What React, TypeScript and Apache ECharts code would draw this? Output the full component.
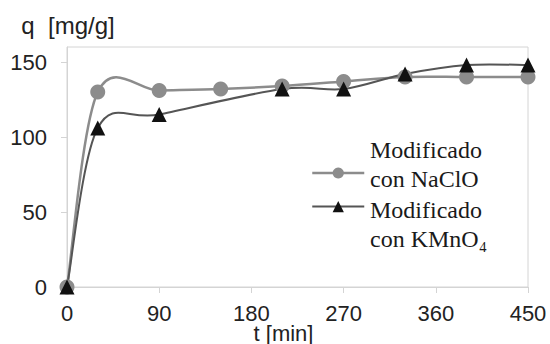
import React, { useEffect, useRef } from "react";
import * as echarts from "echarts";

const timeNaClO = [0, 30, 90, 150, 210, 270, 330, 390, 450];
const qNaClO = [0, 130, 131, 132, 134, 137, 140, 140, 140];
const timeKMnO4 = [0, 30, 90, 210, 270, 330, 390, 450];
const qKMnO4 = [0, 106, 115, 132, 132, 142, 148, 148];
const xTicks = [0, 90, 180, 270, 360, 450];
const yTicks = [0, 50, 100, 150];
const nameNaClO = "Modificado\ncon NaClO";
const nameKMnO4 = "Modificado\ncon KMnO₄";

const colNaClO = "#8c8c8c";
const colKMnO4Line = "#555555";
const colKMnO4Mark = "#111111";

function smoothSeries(name: string, times: number[], values: number[], color: string, width: number) {
  const n = times.length;
  return {
    name,
    type: "custom",
    z: 1,
    silent: true,
    data: times.slice(0, -1).map((t, i) => [t, values[i]]),
    renderItem: (params: any, api: any) => {
      const i = params.dataIndex;
      const pts = times.map((t, k) => api.coord([t, values[k]]));
      const p0 = pts[Math.max(i - 1, 0)];
      const p1 = pts[i];
      const p2 = pts[i + 1];
      const p3 = pts[Math.min(i + 2, n - 1)];
      const k = 1 / 6;
      return {
        type: "bezierCurve",
        shape: {
          x1: p1[0],
          y1: p1[1],
          x2: p2[0],
          y2: p2[1],
          cpx1: p1[0] + (p2[0] - p0[0]) * k,
          cpy1: p1[1] + (p2[1] - p0[1]) * k,
          cpx2: p2[0] - (p3[0] - p1[0]) * k,
          cpy2: p2[1] - (p3[1] - p1[1]) * k,
        },
        style: { stroke: color, lineWidth: width, fill: "none" },
      };
    },
  };
}

export default function App() {
  const ref = useRef<HTMLDivElement>(null);
  useEffect(() => {
    if (!ref.current) return;
    const chart = echarts.init(ref.current, undefined, { renderer: "svg" });
    const sans = "Liberation Sans, Arial, sans-serif";
    const serif = "Liberation Serif, Times New Roman, serif";
    chart.setOption({
      animation: false,
      backgroundColor: "#fff",
      grid: {
        left: 67,
        right: 22,
        top: 47,
        bottom: 57,
        show: true,
        borderColor: "#d4d4d4",
        borderWidth: 1,
        outerBoundsMode: "none",
        containLabel: false,
      },
      legend: [
        {
          // icons only
          orient: "vertical",
          left: 311,
          top: 166,
          padding: 0,
          itemWidth: 52,
          itemHeight: 14,
          itemGap: 21,
          formatter: () => "",
          data: [
            { name: nameNaClO, lineStyle: { color: colNaClO, width: 2.5, opacity: 1 } },
            { name: nameKMnO4, lineStyle: { color: colKMnO4Line, width: 2, opacity: 1 } },
          ],
        },
        {
          // texts only
          orient: "vertical",
          left: 364,
          top: 135.5,
          padding: 0,
          itemWidth: 1,
          itemHeight: 1,
          itemGap: 2,
          textStyle: {
            fontFamily: serif,
            fontSize: 24,
            lineHeight: 29,
            color: "#1a1a1a",
          },
          data: [
            { name: nameNaClO, icon: "none", itemStyle: { opacity: 0 }, lineStyle: { opacity: 0 } },
            { name: nameKMnO4, icon: "none", itemStyle: { opacity: 0 }, lineStyle: { opacity: 0 } },
          ],
        },
      ],
      xAxis: {
        type: "value",
        min: 0,
        max: 450,
        interval: 90,
        name: "t [min]",
        nameLocation: "middle",
        nameGap: 35,
        nameMoveOverlap: false,
        nameTextStyle: {
          fontFamily: sans,
          fontSize: 22,
          lineHeight: 22,
          color: "#222",
          padding: [0, 28, 0, 0],
        },
        axisLine: { show: true, lineStyle: { color: "#d4d4d4", width: 1 } },
        axisTick: { show: true, length: 6, lineStyle: { color: "#d4d4d4" } },
        axisLabel: {
          fontFamily: sans,
          fontSize: 22,
          lineHeight: 18,
          color: "#222",
          margin: 17,
          formatter: (v: number) => (xTicks.includes(v) ? String(v) : ""),
        },
        splitLine: { show: false },
      },
      yAxis: {
        type: "value",
        min: 0,
        max: 160,
        interval: 50,
        name: "q  [mg/g]",
        nameLocation: "end",
        nameGap: 10,
        nameMoveOverlap: false,
        nameTextStyle: {
          fontFamily: sans,
          fontSize: 24,
          color: "#222",
          align: "center",
          padding: [0, 0, 0, 2],
        },
        axisLine: { show: true, lineStyle: { color: "#d4d4d4", width: 1 } },
        axisTick: { show: true, length: 6, lineStyle: { color: "#d4d4d4" } },
        axisLabel: {
          fontFamily: sans,
          fontSize: 22,
          color: "#222",
          margin: 20,
          showMaxLabel: false,
          formatter: (v: number) => (yTicks.includes(v) ? String(v) : ""),
        },
        splitLine: { show: false },
      },
      series: [
        smoothSeries("curva NaClO", timeNaClO, qNaClO, colNaClO, 2.5),
        smoothSeries("curva KMnO4", timeKMnO4, qKMnO4, colKMnO4Line, 2),
        {
          name: nameNaClO,
          type: "line",
          data: timeNaClO.map((t, i) => [t, qNaClO[i]]),
          symbol: "circle",
          symbolSize: 15,
          lineStyle: { color: colNaClO, width: 2.5, opacity: 0 },
          itemStyle: { color: colNaClO },
          z: 2,
        },
        {
          name: nameKMnO4,
          type: "line",
          data: timeKMnO4.map((t, i) => [t, qKMnO4[i]]),
          symbol: "triangle",
          symbolSize: 15,
          lineStyle: { color: colKMnO4Line, width: 2, opacity: 0 },
          itemStyle: { color: colKMnO4Mark },
          z: 3,
        },
      ],
    });
    return () => chart.dispose();
  }, []);
  return <div ref={ref} style={{ width: 550, height: 344, position: "absolute", left: 0, top: 0 }} />;
}
